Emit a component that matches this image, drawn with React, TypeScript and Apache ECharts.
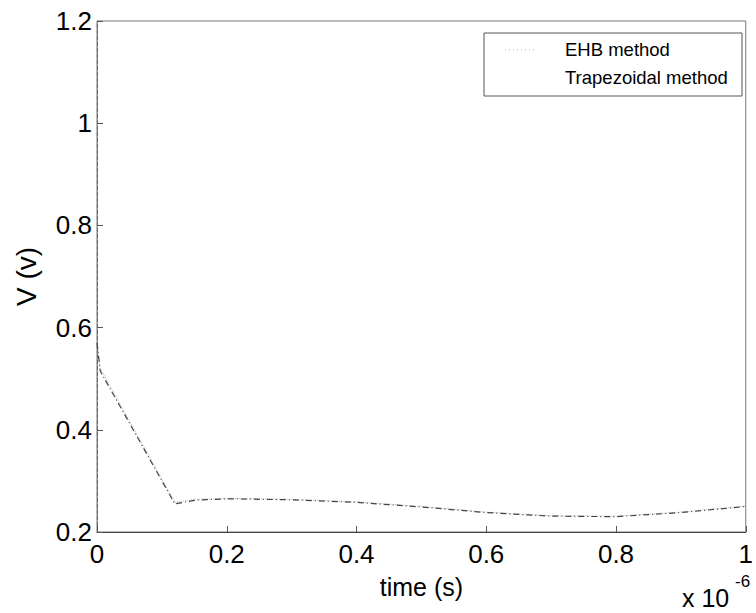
import React, { useEffect, useRef } from "react";
import * as echarts from "echarts";

const xTicks = [0, 0.2, 0.4, 0.6, 0.8, 1];
const yTicks = [0.2, 0.4, 0.6, 0.8, 1, 1.2];
const legendNames = ["EHB method", "Trapezoidal method"];

const trapX = [0, 0.005, 0.12, 0.15, 0.2, 0.3, 0.4, 0.5, 0.6, 0.7, 0.8, 0.9, 1.0];
const trapY = [0.57, 0.515, 0.255, 0.262, 0.265, 0.263, 0.258, 0.249, 0.238, 0.231, 0.23, 0.238, 0.25];

const ehbX = [0, 0.005, 0.12, 0.15, 0.2, 0.3, 0.4, 0.5, 0.6, 0.7, 0.8, 0.9, 1.0];
const ehbY = [0.575, 0.52, 0.258, 0.264, 0.266, 0.264, 0.259, 0.25, 0.239, 0.232, 0.231, 0.239, 0.251];

export default function App() {
  const ref = useRef<HTMLDivElement>(null);
  useEffect(() => {
    if (!ref.current) return;
    const chart = echarts.init(ref.current, null, { renderer: "svg" });
    const font = "Liberation Sans, Arial, sans-serif";
    chart.setOption({
      animation: false,
      backgroundColor: "#fff",
      grid: { left: 97, top: 21, width: 656, height: 511, show: true, borderColor: "#777", borderWidth: 1 },
      xAxis: {
        type: "value",
        min: 0,
        max: 1,
        interval: 0.2,
        axisLine: { show: true, lineStyle: { color: "#444" } },
        axisTick: { show: true, inside: true, length: 6, lineStyle: { color: "#555" } },
        splitLine: { show: false },
        axisLabel: {
          fontSize: 26,
          color: "#000",
          fontFamily: font,
          margin: 9,
          formatter: (v: number) => {
            const r = Math.round(v * 10) / 10;
            return xTicks.includes(r) ? String(r) : "";
          },
        },
        name: "time (s)",
        nameLocation: "middle",
        nameGap: 42,
        nameTextStyle: { fontSize: 25, color: "#000", fontFamily: font },
      },
      yAxis: {
        type: "value",
        min: 0.2,
        max: 1.2,
        interval: 0.2,
        axisLine: { show: true, lineStyle: { color: "#666", type: "dashed" } },
        axisTick: { show: true, inside: true, length: 6, lineStyle: { color: "#555" } },
        splitLine: { show: false },
        axisLabel: {
          fontSize: 26,
          color: "#000",
          fontFamily: font,
          margin: 5,
          formatter: (v: number) => {
            const r = Math.round(v * 10) / 10;
            return yTicks.includes(r) ? String(r) : "";
          },
        },
        name: "V (v)",
        nameLocation: "middle",
        nameGap: 57,
        nameTextStyle: { fontSize: 28, color: "#000", fontFamily: font },
      },
      series: [
        {
          name: legendNames[0],
          type: "line",
          data: ehbX.map((x, i) => [x, ehbY[i]]),
          symbol: "none",
          lineStyle: { color: "#bbb", width: 1, type: "dotted" },
        },
        {
          name: legendNames[1],
          type: "line",
          data: trapX.map((x, i) => [x, trapY[i]]),
          symbol: "none",
          lineStyle: { color: "#444", width: 1.2, type: [6, 3, 1, 3] },
        },
      ],
      graphic: [
        {
          type: "rect",
          shape: { x: 484, y: 33, width: 258, height: 63 },
          style: { fill: "#fff", stroke: "#555", lineWidth: 1 },
          z: 10,
        },
        {
          type: "line",
          shape: { x1: 505, y1: 50, x2: 535, y2: 50 },
          style: { stroke: "#aaa", lineWidth: 1, lineDash: [1, 3] },
          z: 11,
        },
        {
          type: "text",
          x: 565,
          y: 49,
          style: { text: legendNames[0], fontSize: 18.5, fill: "#000", fontFamily: font, verticalAlign: "middle" },
          z: 11,
        },
        {
          type: "text",
          x: 565,
          y: 77,
          style: { text: legendNames[1], fontSize: 18.5, fill: "#000", fontFamily: font, verticalAlign: "middle" },
          z: 11,
        },
        {
          type: "text",
          x: 682,
          y: 585,
          style: { text: "x 10", fontSize: 25, fill: "#000", fontFamily: font, verticalAlign: "top" },
        },
        {
          type: "text",
          x: 735,
          y: 573,
          style: { text: "-6", fontSize: 17, fill: "#000", fontFamily: font, verticalAlign: "top" },
        },
      ],
    });
    return () => chart.dispose();
  }, []);
  return (
    <div
      ref={ref}
      style={{ position: "fixed", left: 0, top: 0, width: 756, height: 613 }}
    />
  );
}
